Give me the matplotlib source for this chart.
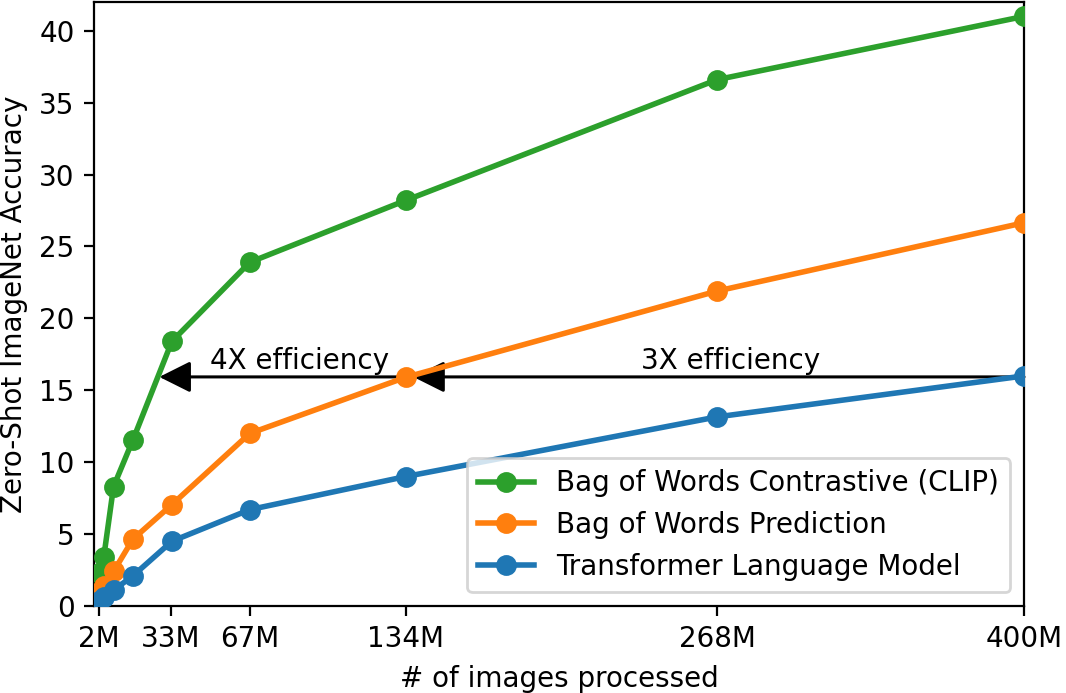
import matplotlib
matplotlib.use("Agg")
import matplotlib.pyplot as plt

images_m = [2, 4.2, 8.4, 16.75, 33.5, 67, 134, 268, 400]
clip_acc = [2.3, 3.4, 8.3, 11.55, 18.4, 23.9, 28.2, 36.6, 41.0]
bow_pred_acc = [1.0, 1.4, 2.4, 4.65, 7.05, 12.0, 15.9, 21.9, 26.65]
transformer_acc = [0.35, 0.6, 1.1, 2.1, 4.5, 6.7, 9.0, 13.15, 16.0]

tick_pos = [2, 33, 67, 134, 268, 400]
tick_labels = ["2M", "33M", "67M", "134M", "268M", "400M"]

plt.rcParams['font.size'] = 10
fig = plt.figure(figsize=(1066 / 200, 693 / 200), dpi=200)
ax = fig.add_axes([94 / 1066, 1 - 606 / 693, (1024 - 94) / 1066, (606 - 2) / 693])

ax.plot(images_m, clip_acc, marker='o', color='#2ca02c', lw=2, ms=6.5,
        label='Bag of Words Contrastive (CLIP)', zorder=3)
ax.plot(images_m, bow_pred_acc, marker='o', color='#ff7f0e', lw=2, ms=6.5,
        label='Bag of Words Prediction', zorder=3)
ax.plot(images_m, transformer_acc, marker='o', color='#1f77b4', lw=2, ms=6.5,
        label='Transformer Language Model', zorder=3)

arrow_y = 15.93
style = '-|>,head_length=0.4,head_width=0.2'
ax.annotate('', xy=(28.1, arrow_y), xytext=(134, arrow_y),
            arrowprops=dict(arrowstyle=style, color='black', lw=1.1,
                            mutation_scale=24, shrinkA=0, shrinkB=0), zorder=2)
ax.annotate('', xy=(137.3, arrow_y), xytext=(400, arrow_y),
            arrowprops=dict(arrowstyle=style, color='black', lw=1.1,
                            mutation_scale=24, shrinkA=0, shrinkB=0), zorder=2)
ax.text(49.9, 16.5, '4X efficiency', ha='left', va='baseline')
ax.text(235.3, 16.5, '3X efficiency', ha='left', va='baseline')

ax.set_xlim(0, 400)
ax.set_ylim(0, 42)
ax.set_xticks(tick_pos)
ax.set_xticklabels(tick_labels)
ax.set_xlabel('# of images processed')
ax.set_ylabel('Zero-Shot ImageNet Accuracy')
ax.legend(loc='lower right')

fig.savefig('out.png', dpi=200)
